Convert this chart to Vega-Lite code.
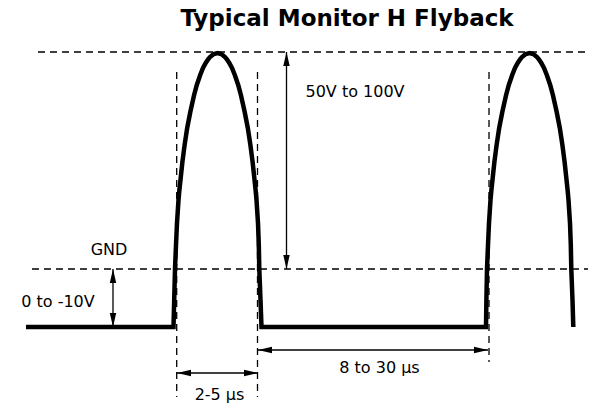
{
  "$schema": "https://vega.github.io/schema/vega-lite/v6.json",
  "autosize": {"type": "fit", "contains": "padding"},
  "width": 597,
  "height": 409,
  "padding": 0,
  "background": "white",
  "config": {"view": {"stroke": null}},
  "datasets": {
    "wave": [
      {"x": 26, "y": 327},
      {"x": 173.5, "y": 327}, {"x": 174.2, "y": 300}, {"x": 175, "y": 269}, {"x": 176, "y": 245}, {"x": 177, "y": 223},
      {"x": 178.5, "y": 200}, {"x": 179.4, "y": 190}, {"x": 181, "y": 175}, {"x": 182.4, "y": 162}, {"x": 184.6, "y": 145},
      {"x": 187.2, "y": 128}, {"x": 190.3, "y": 112}, {"x": 194.1, "y": 95}, {"x": 196.8, "y": 85}, {"x": 200.2, "y": 75},
      {"x": 203, "y": 68}, {"x": 205.7, "y": 63}, {"x": 208.3, "y": 59}, {"x": 210, "y": 57}, {"x": 212.5, "y": 55},
      {"x": 213.8, "y": 54}, {"x": 217.5, "y": 53}, {"x": 221.2, "y": 54}, {"x": 222.5, "y": 55}, {"x": 225, "y": 57},
      {"x": 226.7, "y": 59}, {"x": 229.3, "y": 63}, {"x": 232, "y": 68}, {"x": 234.8, "y": 75}, {"x": 238.2, "y": 85},
      {"x": 240.9, "y": 95}, {"x": 244.7, "y": 112}, {"x": 247.8, "y": 128}, {"x": 250.4, "y": 145}, {"x": 252.6, "y": 162},
      {"x": 254, "y": 175}, {"x": 255.6, "y": 190}, {"x": 256.5, "y": 200}, {"x": 258, "y": 223}, {"x": 258.8, "y": 245},
      {"x": 259.3, "y": 269}, {"x": 260.5, "y": 300}, {"x": 261.5, "y": 327},
      {"x": 486, "y": 327}, {"x": 486.4, "y": 300}, {"x": 487, "y": 269}, {"x": 488, "y": 245}, {"x": 489, "y": 223},
      {"x": 490.5, "y": 200}, {"x": 491.4, "y": 190}, {"x": 493, "y": 175}, {"x": 494.4, "y": 162}, {"x": 496.6, "y": 145},
      {"x": 499.2, "y": 128}, {"x": 502.3, "y": 112}, {"x": 506.1, "y": 95}, {"x": 508.8, "y": 85}, {"x": 512.2, "y": 75},
      {"x": 515, "y": 68}, {"x": 517.7, "y": 63}, {"x": 520.3, "y": 59}, {"x": 522, "y": 57}, {"x": 524.5, "y": 55},
      {"x": 525.8, "y": 54}, {"x": 529.5, "y": 53}, {"x": 533.2, "y": 54}, {"x": 534.5, "y": 55}, {"x": 537, "y": 57},
      {"x": 538.7, "y": 59}, {"x": 541.3, "y": 63}, {"x": 544, "y": 68}, {"x": 546.8, "y": 75}, {"x": 550.2, "y": 85},
      {"x": 552.9, "y": 95}, {"x": 556.7, "y": 112}, {"x": 559.8, "y": 128}, {"x": 562.4, "y": 145}, {"x": 564.6, "y": 162},
      {"x": 566, "y": 175}, {"x": 567.6, "y": 190}, {"x": 568.5, "y": 200}, {"x": 570, "y": 223}, {"x": 570.8, "y": 245},
      {"x": 571.3, "y": 269}, {"x": 572.5, "y": 300}, {"x": 573.3, "y": 327}
    ],
    "dash": [
      {"x": 38, "y": 52, "x2": 588, "y2": 52},
      {"x": 32, "y": 269, "x2": 588, "y2": 269},
      {"x": 176.7, "y": 72, "x2": 176.7, "y2": 397},
      {"x": 257.5, "y": 72, "x2": 257.5, "y2": 397},
      {"x": 489, "y": 72, "x2": 489, "y2": 362}
    ],
    "shaft": [
      {"x": 286.5, "y": 52, "x2": 286.5, "y2": 269},
      {"x": 113, "y": 269, "x2": 113, "y2": 327},
      {"x": 177, "y": 373, "x2": 258, "y2": 373},
      {"x": 258, "y": 350, "x2": 488, "y2": 350}
    ],
    "heads": [
      {"x": 286.5, "y": 52, "dir": "up"},
      {"x": 286.5, "y": 269, "dir": "down"},
      {"x": 113, "y": 269, "dir": "up"},
      {"x": 113, "y": 327, "dir": "down"},
      {"x": 177, "y": 373, "dir": "left"},
      {"x": 258, "y": 373, "dir": "right"},
      {"x": 258, "y": 350, "dir": "left"},
      {"x": 488, "y": 350, "dir": "right"}
    ],
    "labels": [
      {"x": 355, "y": 96.7, "text": "50V to 100V"},
      {"x": 109, "y": 255, "text": "GND"},
      {"x": 58, "y": 306.7, "text": "0 to -10V"},
      {"x": 219.5, "y": 400, "text": "2-5 μs"},
      {"x": 379.5, "y": 373.3, "text": "8 to 30 μs"}
    ],
    "title": [
      {"x": 347, "y": 25.5, "text": "Typical Monitor H Flyback"}
    ]
  },
  "layer": [
    {
      "data": {"name": "dash"},
      "mark": {"type": "rule", "color": "black", "strokeWidth": 1.3, "strokeDash": [7, 5]},
      "encoding": {
        "x": {"field": "x", "type": "quantitative", "scale": {"domain": [0, 597], "nice": false, "zero": false}, "axis": null},
        "y": {"field": "y", "type": "quantitative", "scale": {"domain": [409, 0], "nice": false, "zero": false}, "axis": null},
        "x2": {"field": "x2"},
        "y2": {"field": "y2"}
      }
    },
    {
      "data": {"name": "shaft"},
      "mark": {"type": "rule", "color": "black", "strokeWidth": 1.3},
      "encoding": {
        "x": {"field": "x", "type": "quantitative", "axis": null},
        "y": {"field": "y", "type": "quantitative", "axis": null},
        "x2": {"field": "x2"},
        "y2": {"field": "y2"}
      }
    },
    {
      "data": {"name": "heads"},
      "mark": {"type": "point", "filled": true, "color": "black", "opacity": 1, "size": 196, "strokeWidth": 0},
      "encoding": {
        "x": {"field": "x", "type": "quantitative", "axis": null},
        "y": {"field": "y", "type": "quantitative", "axis": null},
        "shape": {
          "field": "dir",
          "type": "nominal",
          "legend": null,
          "scale": {
            "domain": ["up", "down", "left", "right"],
            "range": ["M0,0L-0.46,2L0.46,2Z", "M0,0L-0.46,-2L0.46,-2Z", "M0,0L2,-0.46L2,0.46Z", "M0,0L-2,-0.46L-2,0.46Z"]
          }
        }
      }
    },
    {
      "data": {"name": "wave"},
      "mark": {"type": "line", "color": "black", "strokeWidth": 4.5, "strokeJoin": "miter", "strokeCap": "butt"},
      "encoding": {
        "x": {"field": "x", "type": "quantitative", "axis": null},
        "y": {"field": "y", "type": "quantitative", "axis": null}
      }
    },
    {
      "data": {"name": "labels"},
      "mark": {"type": "text", "font": "DejaVu Sans", "fontSize": 16, "align": "center", "baseline": "alphabetic", "color": "black"},
      "encoding": {
        "x": {"field": "x", "type": "quantitative", "axis": null},
        "y": {"field": "y", "type": "quantitative", "axis": null},
        "text": {"field": "text"}
      }
    },
    {
      "data": {"name": "title"},
      "mark": {"type": "text", "font": "DejaVu Sans", "fontSize": 23, "fontWeight": "bold", "align": "center", "baseline": "alphabetic", "color": "black"},
      "encoding": {
        "x": {"field": "x", "type": "quantitative", "axis": null},
        "y": {"field": "y", "type": "quantitative", "axis": null},
        "text": {"field": "text"}
      }
    }
  ]
}
